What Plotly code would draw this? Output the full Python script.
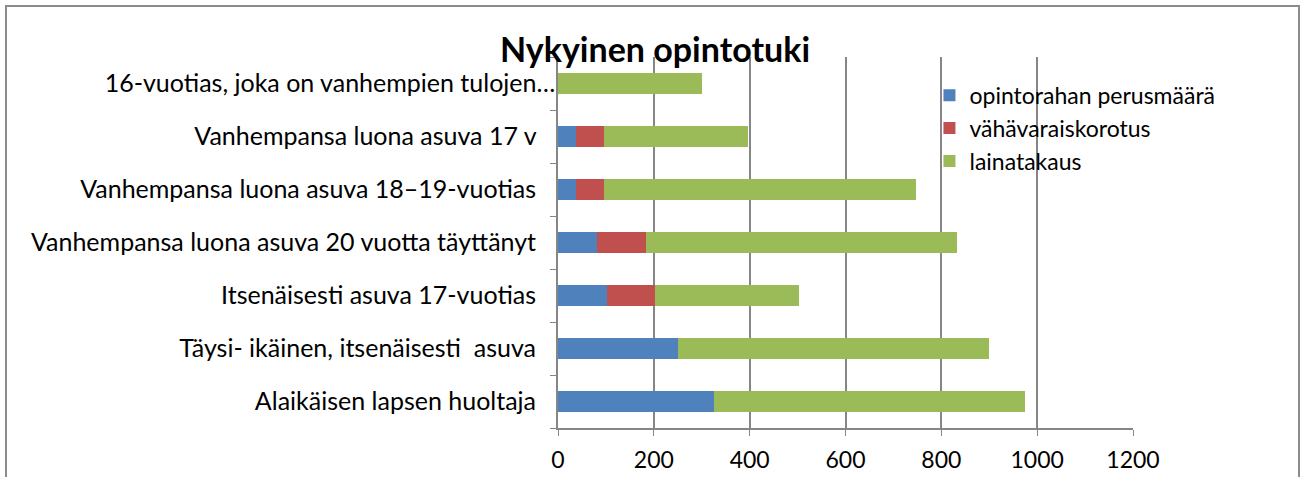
import plotly.graph_objects as go

# categories bottom -> top (plotly draws the first one at the bottom)
categories = [
    "Alaikäisen lapsen huoltaja",
    "Täysi- ikäinen, itsenäisesti  asuva",
    "Itsenäisesti asuva 17-vuotias",
    "Vanhempansa luona asuva 20 vuotta täyttänyt",
    "Vanhempansa luona asuva 18–19-vuotias",
    "Vanhempansa luona asuva 17 v",
    "16-vuotias, joka on vanhempien tulojen…",
]

perusmaara = [325, 250, 102, 82, 38, 38, 0]
korotus = [0, 0, 100, 101, 59, 59, 0]
lainatakaus = [650, 650, 300, 650, 650, 300, 300]

series_names = ["opintorahan perusmäärä", "vähävaraiskorotus", "lainatakaus"]
colors = ["#4F81BD", "#C0504D", "#9BBB59"]

x_ticks = [0, 200, 400, 600, 800, 1000, 1200]

# the truncated label sits closer to the axis, like in the original
NBSP = "\u00a0"
y_labels = [c if c.endswith("…") else c + NBSP * 3 for c in categories]

FONT = "Lato"

fig = go.Figure()
for name, vals, col in zip(series_names, [perusmaara, korotus, lainatakaus], colors):
    fig.add_trace(go.Bar(
        name=name,
        y=categories,
        x=vals,
        orientation="h",
        marker=dict(color=col, line=dict(width=0)),
    ))

# plot area: x 558..1133, y 57..428 in a 1307x477 page
fig.update_layout(
    width=1307,
    height=477,
    barmode="stack",
    bargap=0.6,
    plot_bgcolor="white",
    paper_bgcolor="white",
    margin=dict(l=558, r=174, t=57, b=49),
    font=dict(family=FONT, size=24, color="black"),
    title=dict(
        text="<b>Nykyinen opintotuki</b>",
        font=dict(family=FONT, size=34, color="black"),
        x=655 / 1307,
        xanchor="center",
        y=1 - 50 / 477,
        yanchor="middle",
    ),
    legend=dict(
        x=0.646,
        y=0.955,
        xanchor="left",
        yanchor="top",
        bgcolor="rgba(0,0,0,0)",
        font=dict(family=FONT, size=23),
        traceorder="normal",
        tracegroupgap=0,
        itemwidth=30,
    ),
    xaxis=dict(
        range=[0, 1200],
        tickvals=x_ticks,
        showgrid=True,
        gridcolor="#868686",
        gridwidth=1.5,
        showline=True,
        linecolor="#868686",
        linewidth=1.5,
        ticks="outside",
        ticklen=6,
        tickcolor="#868686",
        zeroline=False,
        automargin=False,
        ticklabelstandoff=5,
        tickfont=dict(family=FONT, size=23),
    ),
    yaxis=dict(
        tickvals=categories,
        ticktext=y_labels,
        showgrid=False,
        showline=True,
        linecolor="#868686",
        linewidth=1.5,
        ticks="outside",
        tickson="boundaries",
        ticklen=6,
        tickcolor="#868686",
        automargin=False,
        ticklabelstandoff=-4,
        tickfont=dict(family=FONT, size=25),
    ),
)

# outer chart border
fig.add_shape(
    type="rect", xref="paper", yref="paper",
    x0=(6 - 558) / 575, x1=(1299 - 558) / 575,
    y0=-0.2, y1=(428 - 6) / 371,
    line=dict(color="#8c8c8c", width=2),
    layer="below",
)

# drop the default page margin so the figure sits at the window corner
fig.write_html(
    "out.html",
    config={"displayModeBar": False},
    post_script="document.body.style.margin='0';",
)
